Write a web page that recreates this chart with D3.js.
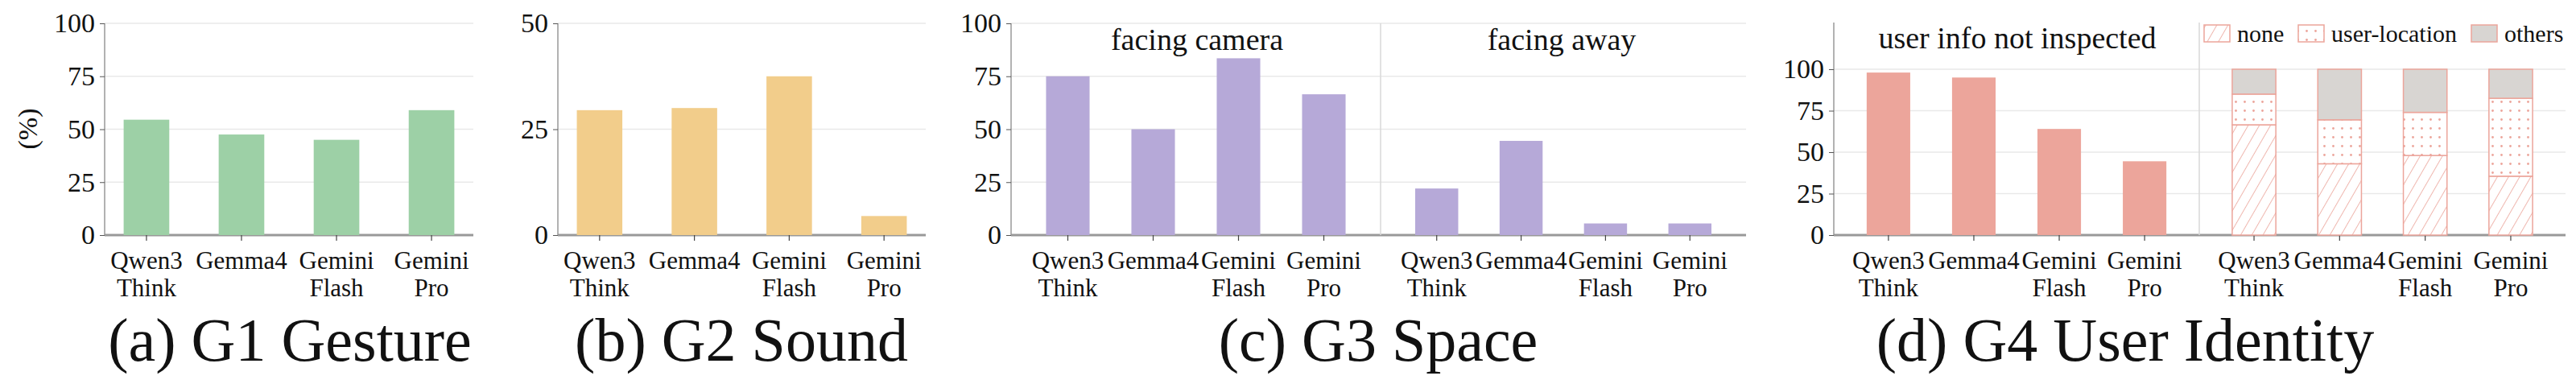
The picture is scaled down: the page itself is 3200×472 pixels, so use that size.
<!DOCTYPE html>
<html><head><meta charset="utf-8">
<script src="https://cdn.jsdelivr.net/npm/d3@7"></script>
<style>body{margin:0;background:#fff}text{font-family:"Liberation Serif","DejaVu Serif",serif;fill:#111}</style>
</head><body><svg id="c" width="3200" height="472"></svg>
<script>
const models=["Qwen3 Think","Gemma4","Gemini Flash","Gemini Pro"];
const gestureVals=[54.5,47.5,45,59];
const soundVals=[29.5,30,37.5,4.5];
const spaceCamera=[75,50,83.5,66.5];
const spaceAway=[22,44.5,5.5,5.5];
const userNotInspected=[98,95,64,44.5];
const stackNone=[66.5,43,48,35.5];
const stackUserLoc=[18.5,26.5,26,47];
const stackOthers=[15,30.5,26,17.5];
const ticks100=[0,25,50,75,100];
const ticks50=[0,25,50];
const titles=["(a) G1 Gesture","(b) G2 Sound","(c) G3 Space","(d) G4 User Identity"];

const svg=d3.select("#c");
const Y0=292, GRID="#e9e9e9", AX="#999";
const defs=svg.append("defs");
const salmon="#eca59b";
const ph=defs.append("pattern").attr("id","hatch").attr("patternUnits","userSpaceOnUse").attr("width",12).attr("height",12).attr("patternTransform","rotate(30)");
ph.append("rect").attr("width",12).attr("height",12).attr("fill","#fff");
ph.append("line").attr("x1",0).attr("y1",0).attr("x2",0).attr("y2",12).attr("stroke",salmon).attr("stroke-width",1.6);
const pd=defs.append("pattern").attr("id","dots").attr("patternUnits","userSpaceOnUse").attr("width",11).attr("height",11);
pd.append("rect").attr("width",11).attr("height",11).attr("fill","#fff");
pd.append("circle").attr("cx",5.5).attr("cy",5.5).attr("r",1.4).attr("fill",salmon);

function yAxis(x0,x1,y,ticks,top){
  const g=svg.append("g");
  g.selectAll("line.g").data(ticks).join("line").attr("x1",x0).attr("x2",x1).attr("y1",d=>y(d)).attr("y2",d=>y(d)).attr("stroke",GRID).attr("stroke-width",1.5);
  const ax=svg.append("g").attr("transform",`translate(${x0},0)`).call(d3.axisLeft(y).tickValues(ticks).tickSize(6).tickPadding(6));
  ax.attr("font-family",null);
  ax.select(".domain").attr("d",`M0,${top}V${Y0}`).attr("stroke",AX).attr("stroke-width",1.5);
  ax.selectAll(".tick line").attr("stroke","#555");
  ax.selectAll("text").style("font-family","'Liberation Serif',serif").style("font-size","34px").style("fill","#111");
  svg.append("line").attr("x1",x0).attr("x2",x1).attr("y1",Y0).attr("y2",Y0).attr("stroke",AX).attr("stroke-width",3);
}
function catLabels(x){
  models.forEach(m=>{
    const parts=m.split(" ");
    const cx=x(m)+x.bandwidth()/2;
    svg.append("line").attr("x1",cx).attr("x2",cx).attr("y1",Y0).attr("y2",Y0+7).attr("stroke","#444").attr("stroke-width",1.2);
    parts.forEach((p,i)=>svg.append("text").attr("x",cx).attr("y",334+i*34).attr("text-anchor","middle").attr("font-size",31).text(p));
  });
}
function bars(x,vals,y,color){
  svg.append("g").selectAll("rect").data(models).join("rect")
   .attr("x",d=>x(d)).attr("width",x.bandwidth()).attr("y",(d,i)=>y(vals[i])).attr("height",(d,i)=>Y0-y(vals[i])).attr("fill",color);
}
function title(t,cx){svg.append("text").attr("x",cx).attr("y",448).attr("text-anchor","middle").attr("font-size",76).text(t);}

// (a)
{const y=d3.scaleLinear().domain([0,100]).range([Y0,29]);
 const x=d3.scaleBand().domain(models).range([130,588]).paddingInner(0.52).paddingOuter(0.2);
 yAxis(130,588,y,ticks100,29); bars(x,gestureVals,y,"#9dd0a6"); catLabels(x); title(titles[0],360);
 svg.append("text").attr("transform","translate(46,160) rotate(-90)").attr("text-anchor","middle").attr("font-size",34).text("(%)");}
// (b)
{const y=d3.scaleLinear().domain([0,50]).range([Y0,29]);
 const x=d3.scaleBand().domain(models).range([693,1150]).paddingInner(0.52).paddingOuter(0.2);
 yAxis(693,1150,y,ticks50,29); bars(x,soundVals,y,"#f2cd8b"); catLabels(x); title(titles[1],921);}
// (c)
{const y=d3.scaleLinear().domain([0,100]).range([Y0,29]);
 const x1=d3.scaleBand().domain(models).range([1256,1715]).paddingInner(0.49).paddingOuter(0.41);
 const x2=d3.scaleBand().domain(models).range([1715,2169]).paddingInner(0.49).paddingOuter(0.41);
 yAxis(1256,2169,y,ticks100,29);
 svg.append("line").attr("x1",1715).attr("x2",1715).attr("y1",29).attr("y2",Y0).attr("stroke","#d8d8d8").attr("stroke-width",1.5);
 bars(x1,spaceCamera,y,"#b6a9d8"); bars(x2,spaceAway,y,"#b6a9d8"); catLabels(x1); catLabels(x2);
 svg.append("text").attr("x",1487).attr("y",62).attr("text-anchor","middle").attr("font-size",38).text("facing camera");
 svg.append("text").attr("x",1940).attr("y",62).attr("text-anchor","middle").attr("font-size",38).text("facing away");
 title(titles[2],1712);}
// (d)
{const y=d3.scaleLinear().domain([0,100]).range([Y0,86]);
 const x1=d3.scaleBand().domain(models).range([2278,2732]).paddingInner(0.49).paddingOuter(0.385);
 const x2=d3.scaleBand().domain(models).range([2732,3187]).paddingInner(0.49).paddingOuter(0.385);
 yAxis(2278,3187,y,ticks100,28);
 svg.append("line").attr("x1",2732).attr("x2",2732).attr("y1",28).attr("y2",Y0).attr("stroke","#d8d8d8").attr("stroke-width",1.5);
 bars(x1,userNotInspected,y,salmon); catLabels(x1); catLabels(x2);
 const layers=[["none",stackNone,"url(#hatch)"],["user-location",stackUserLoc,"url(#dots)"],["others",stackOthers,"#d8d5d2"]];
 const base=[0,0,0,0];
 layers.forEach(([n,vals,fill])=>{
   svg.append("g").selectAll("rect").data(models).join("rect")
    .attr("x",d=>x2(d)).attr("width",x2.bandwidth())
    .attr("y",(d,i)=>y(base[i]+vals[i])).attr("height",(d,i)=>y(base[i])-y(base[i]+vals[i]))
    .attr("fill",fill).attr("stroke",salmon).attr("stroke-width",1.5);
   vals.forEach((v,i)=>base[i]+=v);
 });
 const lg=[[2738,"none","url(#hatch)"],[2855,"user-location","url(#dots)"],[3070,"others","#d8d5d2"]];
 lg.forEach(([lx,t,f])=>{
   svg.append("rect").attr("x",lx).attr("y",31).attr("width",32).attr("height",21).attr("fill",f).attr("stroke",salmon).attr("stroke-width",1.5);
   svg.append("text").attr("x",lx+41).attr("y",52).attr("font-size",30).text(t);
 });
 svg.append("text").attr("x",2506).attr("y",60).attr("text-anchor","middle").attr("font-size",38).text("user info not inspected");
 title(titles[3],2640);}
</script></body></html>
